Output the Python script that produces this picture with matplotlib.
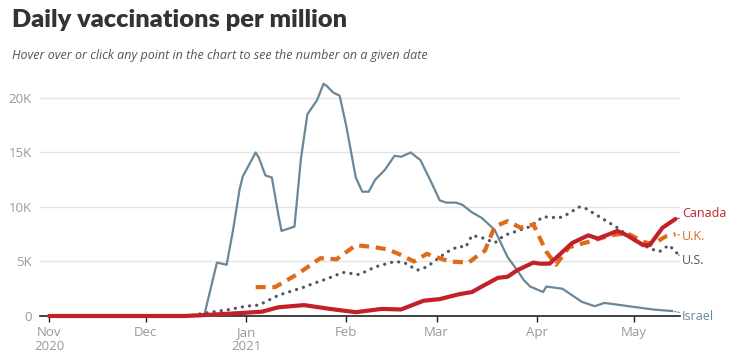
import matplotlib
matplotlib.use('Agg')
import matplotlib.pyplot as plt
import matplotlib.dates as mdates
import pandas as pd

# 数据 (单位: 千剂/百万人)
israel_dates = ['2020-11-01', '2020-12-19', '2020-12-23', '2020-12-26', '2020-12-28', '2020-12-30',
                '2020-12-31', '2021-01-04', '2021-01-05', '2021-01-07', '2021-01-09', '2021-01-11',
                '2021-01-12', '2021-01-14', '2021-01-16', '2021-01-18', '2021-01-20', '2021-01-23',
                '2021-01-25', '2021-01-26', '2021-01-28', '2021-01-30', '2021-02-01', '2021-02-03',
                '2021-02-04', '2021-02-06', '2021-02-08', '2021-02-10', '2021-02-13', '2021-02-16',
                '2021-02-18', '2021-02-21', '2021-02-24', '2021-02-27', '2021-03-02', '2021-03-04',
                '2021-03-07', '2021-03-09', '2021-03-12', '2021-03-15', '2021-03-19', '2021-03-23',
                '2021-03-26', '2021-03-28', '2021-03-30', '2021-04-03', '2021-04-04', '2021-04-09',
                '2021-04-15', '2021-04-19', '2021-04-22', '2021-05-02', '2021-05-07', '2021-05-13']
israel_vals = [0, 0, 4.9, 4.7, 7.9, 11.6,
               12.8, 15.0, 14.5, 12.9, 12.7, 9.3,
               7.8, 8.0, 8.2, 14.4, 18.5, 19.8,
               21.3, 21.1, 20.5, 20.2, 17.5, 14.3,
               12.7, 11.4, 11.4, 12.5, 13.4, 14.7,
               14.6, 15.0, 14.3, 12.5, 10.6, 10.4,
               10.4, 10.2, 9.5, 9.0, 7.9, 5.4,
               4.2, 3.3, 2.7, 2.2, 2.7, 2.5,
               1.3, 0.9, 1.2, 0.8, 0.6, 0.45]

canada_dates = ['2020-11-01', '2020-12-13', '2020-12-20', '2021-01-01', '2021-01-06', '2021-01-11',
                '2021-01-19', '2021-01-27', '2021-02-04', '2021-02-12', '2021-02-18', '2021-02-25',
                '2021-03-02', '2021-03-08', '2021-03-12', '2021-03-15', '2021-03-20', '2021-03-23',
                '2021-03-26', '2021-03-31', '2021-04-02', '2021-04-05', '2021-04-08', '2021-04-12',
                '2021-04-17', '2021-04-20', '2021-04-26', '2021-04-29', '2021-05-04', '2021-05-06',
                '2021-05-10', '2021-05-14']
canada_vals = [0, 0, 0.1, 0.3, 0.4, 0.8,
               1.0, 0.65, 0.35, 0.65, 0.6, 1.4,
               1.55, 2.0, 2.2, 2.7, 3.5, 3.6,
               4.2, 4.9, 4.8, 4.8, 5.6, 6.7,
               7.4, 7.1, 7.8, 7.4, 6.5, 6.5,
               8.1, 8.9]

uk_dates = ['2021-01-04', '2021-01-10', '2021-01-17', '2021-01-24', '2021-01-29', '2021-02-04',
            '2021-02-10', '2021-02-14', '2021-02-18', '2021-02-22', '2021-02-26', '2021-03-05',
            '2021-03-11', '2021-03-14', '2021-03-16', '2021-03-19', '2021-03-23', '2021-03-27',
            '2021-03-31', '2021-04-04', '2021-04-07', '2021-04-11', '2021-04-17', '2021-04-24',
            '2021-04-29', '2021-05-04', '2021-05-07', '2021-05-11', '2021-05-14']
uk_vals = [2.65, 2.65, 3.85, 5.3, 5.2, 6.5,
           6.3, 6.1, 5.6, 5.0, 5.7, 5.0,
           4.9, 5.6, 6.0, 8.2, 8.7, 8.1,
           8.4, 5.9, 4.7, 6.3, 6.8, 7.4,
           7.6, 6.8, 6.6, 7.3, 7.5]

us_dates = ['2020-11-01', '2020-12-14', '2020-12-20', '2020-12-27', '2021-01-01', '2021-01-05',
            '2021-01-11', '2021-01-19', '2021-01-22', '2021-01-26', '2021-01-31', '2021-02-05',
            '2021-02-10', '2021-02-16', '2021-02-19', '2021-02-23', '2021-02-26', '2021-03-02',
            '2021-03-05', '2021-03-08', '2021-03-10', '2021-03-12', '2021-03-16', '2021-03-19',
            '2021-03-22', '2021-03-30', '2021-04-03', '2021-04-08', '2021-04-11', '2021-04-14',
            '2021-04-16', '2021-04-21', '2021-04-26', '2021-05-01', '2021-05-06', '2021-05-09',
            '2021-05-12', '2021-05-15']
us_vals = [0, 0, 0.3, 0.6, 0.9, 1.0,
           1.9, 2.65, 3.0, 3.4, 4.0, 3.8,
           4.5, 5.0, 4.9, 4.2, 4.5, 5.4,
           6.0, 6.4, 6.3, 7.4, 7.1, 6.7,
           7.4, 8.2, 9.1, 9.0, 9.4, 10.0,
           9.9, 9.0, 8.1, 7.0, 6.2, 5.9,
           6.5, 5.6]

month_ticks = ['2020-11-01', '2020-12-01', '2021-01-01', '2021-02-01', '2021-03-01', '2021-04-01', '2021-05-01']
month_labels = ['Nov\n2020', 'Dec', 'Jan\n2021', 'Feb', 'Mar', 'Apr', 'May']
y_ticks = [0, 5, 10, 15, 20]
y_labels = ['0', '5K', '10K', '15K', '20K']

plt.rcParams['font.family'] = ['Open Sans', 'DejaVu Sans']

W, H = 732, 362
fig = plt.figure(figsize=(W / 100, H / 100), dpi=100)
ax = fig.add_axes([40 / W, 46 / H, 640 / W, 234.4 / H])

c_israel = '#6a8799'
c_canada = '#c3212a'
c_uk = '#e0691a'
c_us = '#50575e'

d = lambda lst: pd.to_datetime(lst)

ax.plot(d(israel_dates), israel_vals, color=c_israel, lw=1.6, zorder=3, clip_on=False)
ax.plot(d(us_dates), us_vals, color=c_us, lw=2.3, linestyle=(0, (0.05, 2.2)),
        dash_capstyle='round', zorder=4, clip_on=False)
ax.plot(d(uk_dates), uk_vals, color=c_uk, lw=3, linestyle=(0, (2.4, 1.6)),
        dash_capstyle='butt', zorder=5, clip_on=False)
ax.plot(d(canada_dates), canada_vals, color=c_canada, lw=3, zorder=6,
        solid_capstyle='round', clip_on=False)

# 末端标签
labels = [('Canada', canada_dates[-1], canada_vals[-1], 9.4, c_canada),
          ('U.K.', uk_dates[-1], uk_vals[-1], 7.25, c_uk),
          ('U.S.', us_dates[-1], us_vals[-1], 5.1, c_us),
          ('Israel', israel_dates[-1], israel_vals[-1], 0.0, c_israel)]
label_x = pd.Timestamp('2021-05-16')
for name, dt, v, ly, col in labels:
    ax.annotate(name, xy=(pd.Timestamp(dt), v), xytext=(label_x, ly),
                color=col, fontsize=9, va='center', ha='left', annotation_clip=False,
                arrowprops=dict(arrowstyle='-', color=col, lw=0.9, linestyle=':',
                                shrinkA=0, shrinkB=1))

ax.set_xlim(pd.Timestamp('2020-11-01') - pd.Timedelta(days=2.8),
            pd.Timestamp('2020-11-01') + pd.Timedelta(days=195.4))
ax.set_ylim(0, 21.5)

ax.set_xticks(d(month_ticks))
ax.set_xticklabels(month_labels)
ax.set_yticks(y_ticks)
ax.set_yticklabels(y_labels)
ax.tick_params(axis='x', length=4, width=1, color='#222', labelcolor='#999', labelsize=9.5, pad=3)
ax.tick_params(axis='y', length=0, labelcolor='#999', labelsize=9.5, pad=6)
for lbl in ax.get_xticklabels():
    lbl.set_linespacing(1.1)

ax.grid(axis='y', color='#e3e3e3', lw=1)
ax.set_axisbelow(True)
for s in ['top', 'right', 'left']:
    ax.spines[s].set_visible(False)
ax.spines['bottom'].set_color('#222')
ax.spines['bottom'].set_linewidth(1.2)
ax.spines['bottom'].set_zorder(2)

fig.text(12 / W, 1 - 20 / H, 'Daily vaccinations per million', fontsize=18.3,
         fontweight='heavy', family=['Lato', 'DejaVu Sans'], color='#333333', va='center', ha='left')
fig.text(12 / W, 1 - 55 / H, 'Hover over or click any point in the chart to see the number on a given date',
         fontsize=9, style='italic', color='#555555', va='center', ha='left')

fig.savefig('out.png', dpi=100)
